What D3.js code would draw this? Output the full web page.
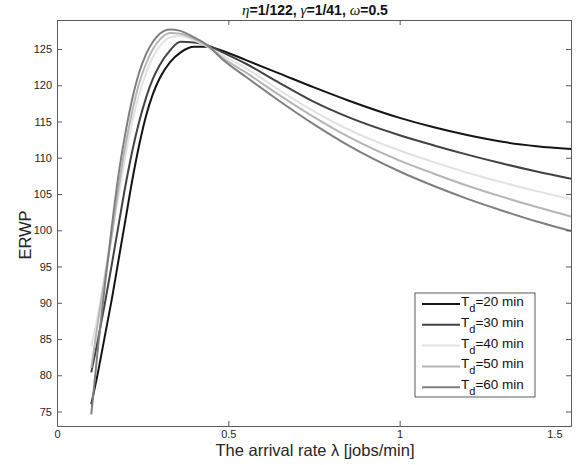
<!doctype html>
<html>
<head>
<style>
    body { margin: 0; background: #fff; }
    text { font-family: "Liberation Sans", Arial, sans-serif; }
</style>
<script src="https://cdnjs.cloudflare.com/ajax/libs/d3/7.8.5/d3.min.js"></script>
</head>
<body>
<svg width="578" height="465"></svg>
<script>

// arrival rate samples (jobs/min)
var lambda = [0.10, 0.12, 0.14, 0.16, 0.18, 0.20, 0.22, 0.24, 0.26, 0.28, 0.30, 0.33, 0.36,
              0.40, 0.44, 0.48, 0.55, 0.65, 0.75, 0.85, 1.00, 1.10, 1.20, 1.30, 1.40, 1.50];

var erwp20 = [76.0, 80.5, 85.5, 90.5, 96.0, 101.5, 107.0, 111.8, 115.8, 118.8, 121.0, 123.2, 124.5,
              125.3, 125.3, 124.8, 123.5, 121.6, 119.7, 117.9, 115.5, 114.2, 113.1, 112.2, 111.6, 111.2];
var erwp30 = [80.4, 85.0, 90.0, 95.3, 100.8, 106.2, 111.0, 115.0, 118.3, 120.9, 122.8, 124.8, 126.0,
              125.9, 125.5, 124.6, 123.0, 120.3, 117.7, 115.6, 113.1, 111.7, 110.4, 109.2, 108.1, 107.1];
var erwp40 = [84.0, 88.5, 94.0, 99.5, 104.8, 110.3, 115.0, 118.8, 121.7, 123.9, 125.4, 126.6, 126.8,
              126.2, 125.3, 124.2, 122.4, 119.3, 116.4, 113.9, 111.0, 109.4, 107.9, 106.6, 105.4, 104.3];
var erwp50 = [81.0, 87.5, 93.5, 99.3, 106.0, 111.8, 116.5, 120.3, 123.0, 125.0, 126.3, 127.2, 127.1,
              126.4, 125.4, 123.9, 121.8, 118.6, 115.6, 112.9, 109.6, 107.8, 106.1, 104.6, 103.2, 101.9];
var erwp60 = [74.6, 84.0, 92.5, 100.5, 107.8, 113.5, 118.2, 121.8, 124.3, 126.0, 127.1, 127.7, 127.5,
              126.6, 125.5, 123.7, 121.2, 117.8, 114.6, 111.7, 108.1, 106.1, 104.3, 102.7, 101.2, 99.9];

var seriesNames = ["20", "30", "40", "50", "60"];
var seriesColors = ["#141414", "#424242", "#e2e2e2", "#b5b5b5", "#7f7f7f"];

var xTicks = [0, 0.5, 1, 1.5];
var yTicks = [75, 80, 85, 90, 95, 100, 105, 110, 115, 120, 125];

var svg = d3.select("svg");
var plotLeft = 57, plotRight = 571, plotTop = 20, plotBottom = 426;
var axisColor = "#5a5a5a", labelColor = "#262626";

var x = d3.scaleLinear().domain([0, 1.5]).range([plotLeft, plotRight]);
var y = d3.scaleLinear().domain([73, 129]).range([plotBottom, plotTop]);

// curves
var allSeries = [erwp20, erwp30, erwp40, erwp50, erwp60];
var line = d3.line()
    .x(function(d) { return x(d[0]); })
    .y(function(d) { return y(d[1]); })
    .curve(d3.curveMonotoneX);

var plot = svg.append("g");
allSeries.forEach(function(vals, i) {
    plot.append("path")
        .datum(lambda.map(function(l, j) { return [l, vals[j]]; }))
        .attr("fill", "none")
        .attr("stroke", seriesColors[i])
        .attr("stroke-width", 2)
        .attr("d", line);
});

// axes: inward ticks on all four sides, like a boxed matlab plot
function styleAxis(g) {
    g.selectAll("path").attr("stroke", axisColor).attr("stroke-width", 1);
    g.selectAll("line").attr("stroke", axisColor);
    g.selectAll("text").attr("fill", labelColor)
        .style("font-family", "Liberation Sans, Arial, sans-serif")
        .style("font-size", "11px");
}

svg.append("g")
    .attr("transform", "translate(0," + plotBottom + ")")
    .call(d3.axisBottom(x).tickValues(xTicks).tickSize(-5).tickSizeOuter(0)
        .tickPadding(4).tickFormat(d3.format("")))
    .call(styleAxis)
    .selectAll("text")
    .filter(function(d) { return d === 1.5; })
    .attr("text-anchor", "end")
    .attr("dx", -9);

svg.append("g")
    .attr("transform", "translate(0," + plotTop + ")")
    .call(d3.axisTop(x).tickValues(xTicks).tickSize(-5).tickSizeOuter(0).tickFormat(""))
    .call(styleAxis);

svg.append("g")
    .attr("transform", "translate(" + plotLeft + ",0)")
    .call(d3.axisLeft(y).tickValues(yTicks).tickSize(-5).tickSizeOuter(0).tickPadding(5))
    .call(styleAxis);

svg.append("g")
    .attr("transform", "translate(" + plotRight + ",0)")
    .call(d3.axisRight(y).tickValues(yTicks).tickSize(-5).tickSizeOuter(0).tickFormat(""))
    .call(styleAxis);

// title
var title = svg.append("text")
    .attr("x", 315)
    .attr("y", 15)
    .attr("text-anchor", "middle")
    .attr("fill", "#111")
    .style("font-size", "14px")
    .style("font-weight", "bold");
var parts = [["η", true], ["=1/122, ", false], ["γ", true], ["=1/41, ", false], ["ω", true], ["=0.5", false]];
parts.forEach(function(p) {
    title.append("tspan")
        .style("font-style", p[1] ? "italic" : "normal")
        .style("font-weight", p[1] ? "normal" : "bold")
        .style("font-family", p[1] ? "Liberation Serif, serif" : null)
        .style("font-size", p[1] ? "15px" : null)
        .text(p[0]);
});

// axis labels
svg.append("text")
    .attr("x", 315)
    .attr("y", 456)
    .attr("text-anchor", "middle")
    .attr("fill", labelColor)
    .style("font-size", "16.5px")
    .text("The arrival rate λ [jobs/min]");

svg.append("text")
    .attr("transform", "translate(31,235) rotate(-90)")
    .attr("text-anchor", "middle")
    .attr("fill", labelColor)
    .style("font-size", "16.5px")
    .text("ERWP");

// legend
var lg = svg.append("g").attr("transform", "translate(415,293)");
lg.append("rect")
    .attr("width", 120).attr("height", 104)
    .attr("fill", "#fff")
    .attr("stroke", "#333").attr("stroke-width", 0.8);

seriesNames.forEach(function(name, i) {
    var ly = 11 + i * 20.8;
    lg.append("line")
        .attr("x1", 7).attr("x2", 45)
        .attr("y1", ly).attr("y2", ly)
        .attr("stroke", seriesColors[i])
        .attr("stroke-width", 2);
    var t = lg.append("text")
        .attr("x", 46)
        .attr("y", ly + 2)
        .attr("fill", "#111")
        .style("font-size", "13.5px");
    t.append("tspan").text("T");
    t.append("tspan").attr("dy", 6).style("font-size", "11px").text("d");
    t.append("tspan").attr("dy", -6).text("=" + name + " min");
});

</script>
</body>
</html>
